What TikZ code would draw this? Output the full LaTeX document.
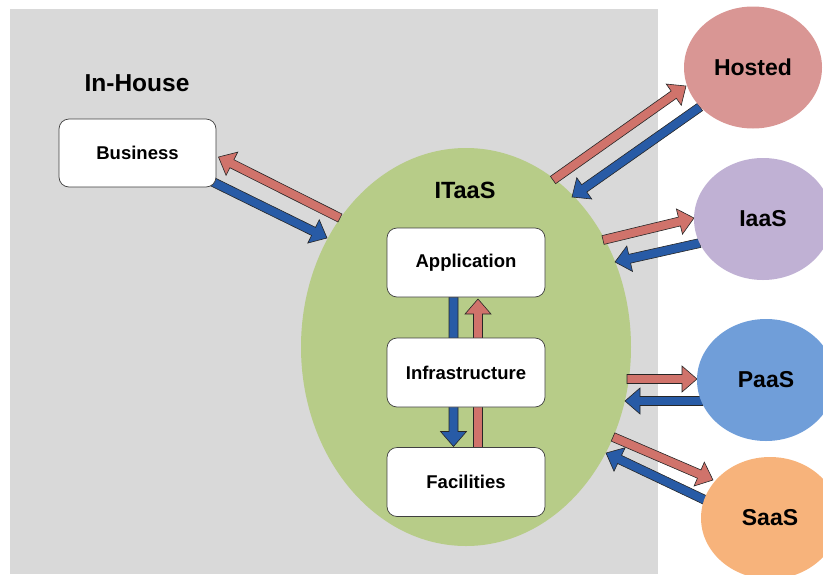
\documentclass[tikz,border=0pt]{standalone}
\usepackage{fontspec}
\setmainfont{Liberation Sans}
\usetikzlibrary{calc,shapes.geometric}
\definecolor{bgGray}{RGB}{217,217,217}
\definecolor{itGreen}{RGB}{183,204,136}
\definecolor{arRed}{RGB}{208,115,107}
\definecolor{arBlue}{RGB}{40,91,166}
\definecolor{hoPink}{RGB}{217,150,148}
\definecolor{iaLav}{RGB}{192,177,212}
\definecolor{paBlue}{RGB}{112,158,217}
\definecolor{saOrange}{RGB}{247,179,123}
\definecolor{boxLine}{RGB}{64,64,64}
\tikzset{
  arrowline/.style={draw=black!85, line width=0.6pt, line join=miter},
  layerbox/.style={draw=boxLine, line width=0.7pt, fill=white, rounded corners=10pt,
     minimum width=158pt, minimum height=69pt, inner sep=0pt,
     font=\fontsize{18.5}{22}\selectfont\bfseries},
  cloudell/.style={ellipse, inner sep=0pt, minimum width=138pt, minimum height=122pt,
     font=\fontsize{23}{28}\selectfont\bfseries},
  biglabel/.style={inner sep=0pt, font=\fontsize{23.5}{28}\selectfont\bfseries}
}
\newcommand\blockarr[3]{%
  \path let \p1=(#1), \p2=(#2) in \pgfextra{%
    \pgfmathsetmacro\baang{atan2(\y2-\y1,\x2-\x1)}%
    \pgfmathsetmacro\balen{veclen(\x2-\x1,\y2-\y1)}%
    \xdef\baang{\baang}\xdef\balen{\balen}%
    \xdef\bax{\x1}\xdef\bay{\y1}};
  \draw[arrowline, fill=#3, shift={(\bax,\bay)}, rotate=\baang]
    (0pt,-4.5pt) -- (\balen pt-15pt,-4.5pt) -- (\balen pt-15pt,-13pt) --
    (\balen pt,0pt) -- (\balen pt-15pt,13pt) -- (\balen pt-15pt,4.5pt) --
    (0pt,4.5pt) -- cycle;
}
\begin{document}
\begin{tikzpicture}[x=1pt,y=-1pt]
\useasboundingbox (0,0) rectangle (823,574);
\clip (0,0) rectangle (823,574);
\fill[bgGray] (10,9) rectangle (658,574);
\node[ellipse, fill=itGreen, inner sep=0pt, minimum width=330pt, minimum height=398pt] (itaas) at (466,347) {};

% arrow end points
\coordinate (busR0) at (340,218);   \coordinate (busR1) at (218.5,157);
\coordinate (busB0) at (213,182);   \coordinate (busB1) at (327,238);
\coordinate (hosR0) at (553,180);   \coordinate (hosR1) at (686,86);
\coordinate (hosB0) at (700,107);   \coordinate (hosB1) at (572,197);
\coordinate (iaaR0) at (603,240);   \coordinate (iaaR1) at (694,218);
\coordinate (iaaB0) at (700,243);   \coordinate (iaaB1) at (615,262);
\coordinate (paaR0) at (627,379);   \coordinate (paaR1) at (697,379);
\coordinate (paaB0) at (703,401);   \coordinate (paaB1) at (625,401);
\coordinate (saaR0) at (613,437);   \coordinate (saaR1) at (713,480);
\coordinate (saaB0) at (705,500);   \coordinate (saaB1) at (606,453);
\coordinate (vB0) at (453.5,297);   \coordinate (vB1) at (453.5,446.5);
\coordinate (vR0) at (478,448);     \coordinate (vR1) at (478,299);

\blockarr{busR0}{busR1}{arRed}
\blockarr{busB0}{busB1}{arBlue}
\blockarr{hosR0}{hosR1}{arRed}
\blockarr{hosB0}{hosB1}{arBlue}
\blockarr{iaaR0}{iaaR1}{arRed}
\blockarr{iaaB0}{iaaB1}{arBlue}
\blockarr{paaR0}{paaR1}{arRed}
\blockarr{paaB0}{paaB1}{arBlue}
\blockarr{saaR0}{saaR1}{arRed}
\blockarr{saaB0}{saaB1}{arBlue}
\blockarr{vB0}{vB1}{arBlue}
\blockarr{vR0}{vR1}{arRed}

\node[layerbox, minimum width=157pt, minimum height=68pt] (business) at (137.5,153) {Business};
\node[layerbox] (app) at (466,262.5) {Application};
\node[layerbox] (infra) at (466,372.5) {Infrastructure};
\node[layerbox] (fac) at (466,482) {Facilities};

\node[cloudell, fill=hoPink] (hosted) at (753,67.5) {Hosted};
\node[cloudell, fill=iaLav] (iaas) at (763,219) {IaaS};
\node[cloudell, fill=paBlue] (paas) at (766,380) {PaaS};
\node[cloudell, fill=saOrange] (saas) at (770,518) {SaaS};

\node[biglabel, font=\fontsize{24.5}{29}\selectfont\bfseries] (inhouse) at (137,83.5) {In-House};
\node[biglabel] (itlabel) at (465,190) {ITaaS};
\end{tikzpicture}
\end{document}
